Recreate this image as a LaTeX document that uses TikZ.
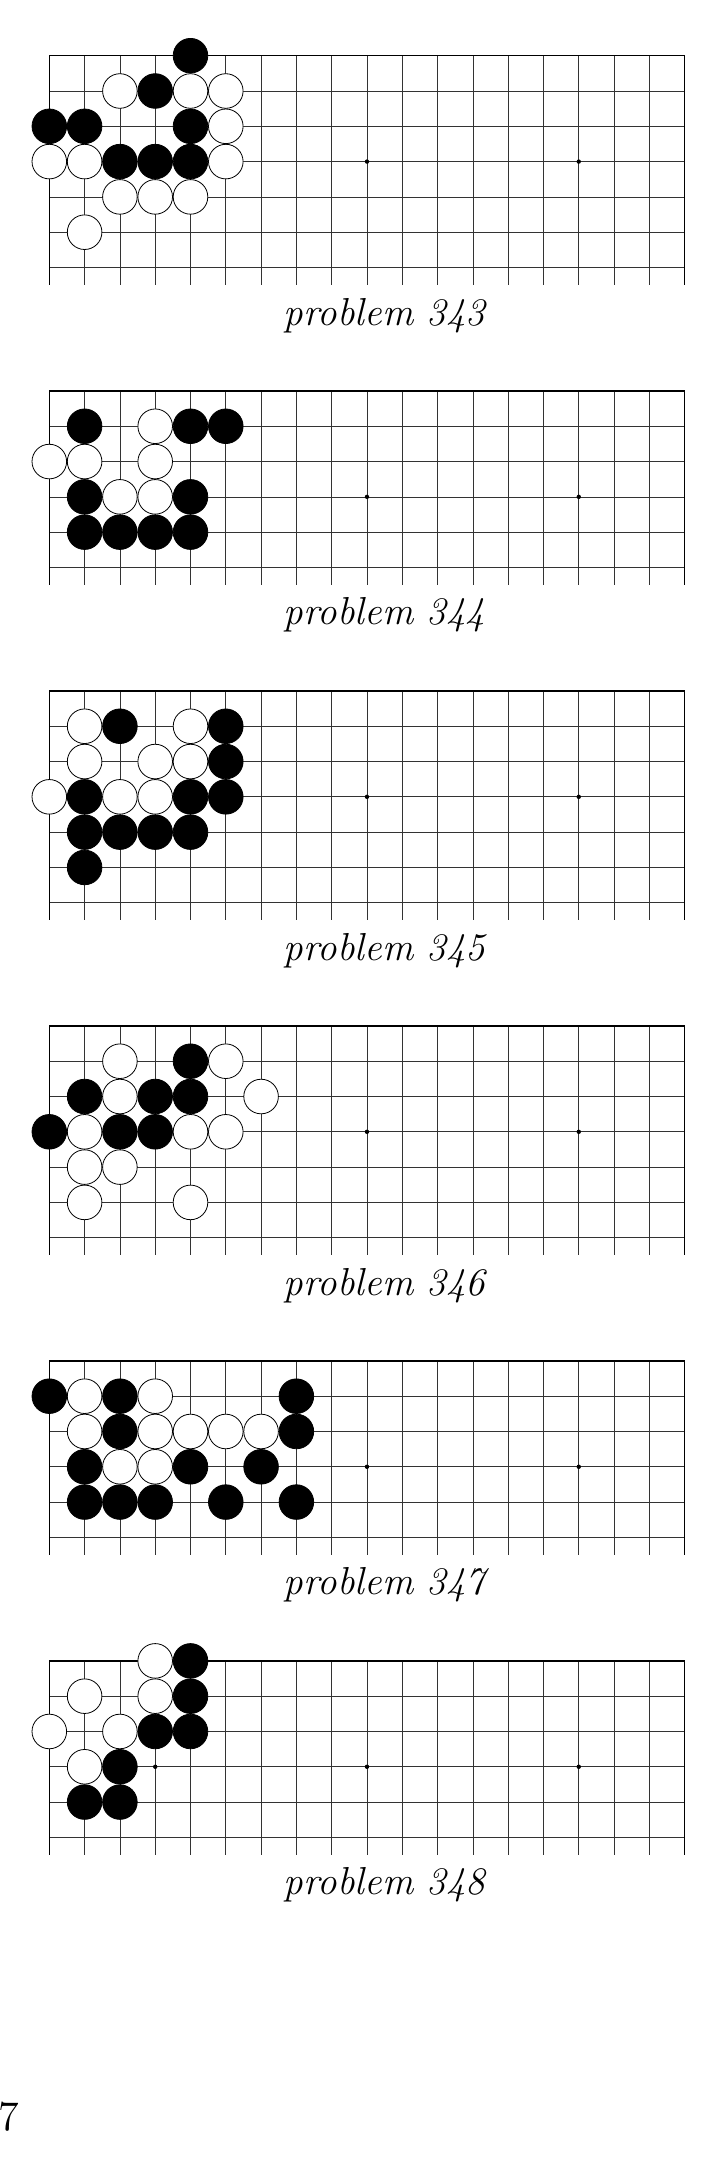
\documentclass[tikz,border=0pt]{standalone}
\usepackage{fontspec}
\usepackage{tikz}

\begin{document}
\begin{tikzpicture}[
  x=3.53mm, y=-3.53mm,
  gridline/.style={line width=0.07mm, black!80},
  edgeline/.style={line width=0.14mm, black},
  bstone/.style={draw=black, fill=black, line width=0.08mm},
  wstone/.style={draw=black, fill=white, line width=0.08mm},
  caption/.style={font=\fontsize{11.1}{13}\selectfont\itshape, anchor=base, inner sep=0pt}
]
  \useasboundingbox (0,0) rectangle (20.54,61.79);
  % one board per entry: top / last row / number / black stones / white stones
  \foreach \top/\last/\num/\blacks/\whites in {
    1.578/6/343/{(4,0),(3,1),(0,2),(1,2),(4,2),(2,3),(3,3),(4,3)}/{(2,1),(4,1),(5,1),(5,2),(0,3),(1,3),(5,3),(2,4),(3,4),(4,4),(1,5)},
    11.076/5/344/{(1,1),(4,1),(5,1),(1,3),(4,3),(1,4),(2,4),(3,4),(4,4)}/{(3,1),(0,2),(1,2),(3,2),(2,3),(3,3)},
    19.575/6/345/{(2,1),(5,1),(5,2),(1,3),(4,3),(5,3),(1,4),(2,4),(3,4),(4,4),(1,5)}/{(1,1),(4,1),(1,2),(3,2),(4,2),(0,3),(2,3),(3,3)},
    29.065/6/346/{(4,1),(1,2),(3,2),(4,2),(0,3),(2,3),(3,3)}/{(2,1),(5,1),(2,2),(6,2),(1,3),(4,3),(5,3),(1,4),(2,4),(1,5),(4,5)},
    38.555/5/347/{(0,1),(2,1),(7,1),(2,2),(7,2),(1,3),(4,3),(6,3),(1,4),(2,4),(3,4),(5,4),(7,4)}/{(1,1),(3,1),(1,2),(3,2),(4,2),(5,2),(6,2),(2,3),(3,3)},
    47.054/5/348/{(4,0),(4,1),(3,2),(4,2),(2,3),(1,4),(2,4)}/{(3,0),(1,1),(3,1),(0,2),(2,2),(1,3)}} {
    \begin{scope}[shift={(1.397,\top)}]
      \foreach \r in {0,...,\last}
        \draw[gridline] (0,\r) -- (18,\r);
      \foreach \c in {0,...,18}
        \draw[gridline] (\c,0) -- (\c,\last+0.5);
      \draw[edgeline] (0,0) -- (18,0);
      \draw[edgeline] (0,0) -- (0,\last+0.5);
      \draw[edgeline] (18,0) -- (18,\last+0.5);
      \foreach \c in {3,9,15}
        \fill (\c,3) circle[radius=0.22mm];
      \foreach \p in \blacks
        \path[bstone] \p circle[radius=1.73mm];
      \foreach \p in \whites
        \path[wstone] \p circle[radius=1.73mm];
      \node[caption] (prob\num) at (9.5,\last+1.63) {problem \num};
    \end{scope}
  }
  \node[anchor=base west, inner sep=0pt, font=\fontsize{12}{14}\selectfont] (pagenum) at (-0.05,60.37) {7};
\end{tikzpicture}
\end{document}
